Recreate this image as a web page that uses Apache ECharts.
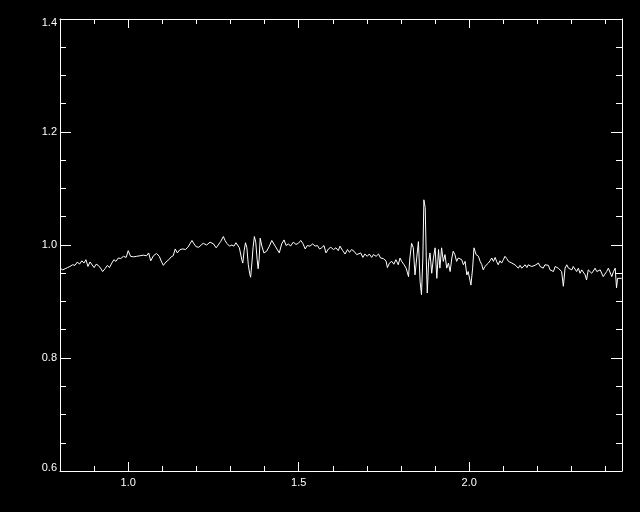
<!DOCTYPE html>
<html><head><meta charset="utf-8">
<script src="https://cdn.jsdelivr.net/npm/echarts@6/dist/echarts.min.js"></script>
<style>html,body{margin:0;padding:0;background:#000}#c{width:640px;height:512px}</style>
</head><body><div id="c"></div>
<script>
const wavelength = [
0.800,0.808,0.815,0.822,0.829,0.837,0.844,0.851,0.857,0.864,0.870,0.876,0.882,0.888,0.894,0.900,0.906,0.912,0.919,0.925,
0.932,0.939,0.945,0.952,0.958,0.964,0.971,0.978,0.986,0.994,1.000,1.007,1.015,1.025,1.035,1.044,1.054,1.060,1.066,1.074,
1.083,1.091,1.098,1.103,1.111,1.119,1.126,1.132,1.138,1.144,1.152,1.160,1.168,1.175,1.181,1.187,1.193,1.199,1.207,1.214,
1.220,1.230,1.240,1.250,1.258,1.264,
1.271,1.279,1.284,1.289,1.297,1.304,1.310,1.316,1.320,1.326,1.333,1.336,1.340,1.344,1.348,1.352,1.356,1.359,1.363,1.366,
1.370,1.374,1.378,1.381,1.384,1.387,1.392,1.398,1.406,1.414,1.421,1.426,1.431,1.435,1.443,1.450,1.457,1.463,1.470,1.476,
1.484,1.492,1.499,1.506,1.512,1.519,1.525,1.533,1.541,1.548,1.555,1.561,1.567,1.574,1.580,1.587,1.594,1.602,1.609,1.616,
1.621,1.629,1.636,1.643,1.649,1.655,1.662,1.670,1.675,1.682,1.688,1.694,1.701,1.707,1.714,1.719,1.727,1.734,1.740,1.748,
1.756,1.760,1.766,1.773,1.779,1.785,1.792,1.797,1.802,1.809,1.815,1.822,1.826,1.831,1.836,1.841,1.846,1.851,1.856,1.860,
1.864,1.867,1.871,1.874,1.877,1.881,1.885,1.890,1.895,1.900,1.905,1.910,1.914,1.919,1.924,1.929,1.934,1.939,1.944,1.949,
1.953,1.958,1.963,1.968,1.973,1.978,1.983,1.988,1.993,1.997,2.002,2.005,2.010,2.014,2.020,2.027,2.032,2.037,
2.041,2.046,2.051,2.056,2.061,2.066,2.071,2.076,2.081,2.085,2.090,2.095,2.100,2.105,2.110,2.115,2.120,2.125,2.129,2.134,
2.139,2.144,2.149,2.154,2.159,2.164,2.169,2.173,2.178,2.183,2.188,2.193,2.198,2.203,2.208,2.213,2.217,2.222,2.227,2.232,
2.237,2.242,2.247,2.252,2.257,2.261,2.266,2.271,2.276,2.281,2.286,2.291,2.296,2.301,2.305,2.310,2.315,2.320,2.325,2.330,
2.335,2.340,2.344,2.349,2.354,2.359,2.364,2.369,2.374,2.379,2.384,2.389,2.393,2.398,2.403,2.408,2.413,2.418,2.423,2.428,
2.432,2.435,2.440,2.447
];
const ratio = [
0.959,0.956,0.958,0.960,0.962,0.965,0.964,0.970,0.966,0.972,0.968,0.974,0.962,0.970,0.965,0.960,0.966,0.964,0.959,0.953,
0.958,0.964,0.960,0.968,0.974,0.971,0.977,0.976,0.980,0.978,0.990,0.980,0.979,0.980,0.981,0.982,0.981,0.986,0.972,0.981,
0.985,0.980,0.970,0.964,0.970,0.974,0.979,0.981,0.993,0.986,0.992,0.993,0.992,0.996,1.002,1.008,1.002,0.997,0.996,1.000,
1.003,1.000,1.005,1.002,0.995,1.000,
1.006,1.015,1.008,1.003,0.998,1.000,0.998,1.004,1.006,0.995,0.974,0.968,0.990,1.004,0.995,0.966,0.950,0.943,0.970,0.995,
1.015,1.005,0.975,0.958,0.975,1.012,0.998,0.986,0.989,0.998,1.008,1.005,0.998,1.001,0.986,1.002,1.009,0.999,1.002,0.998,
1.005,1.001,1.003,1.008,1.003,0.993,0.999,0.998,1.002,0.998,0.999,0.993,0.995,0.999,0.986,0.993,0.996,0.992,0.995,0.990,
0.998,0.990,0.984,0.992,0.987,0.992,0.989,0.983,0.980,0.986,0.978,0.984,0.980,0.984,0.978,0.983,0.980,0.984,0.977,0.976,
0.972,0.960,0.968,0.971,0.966,0.974,0.965,0.977,0.971,0.965,0.959,0.944,0.977,1.003,0.995,0.947,0.977,1.006,0.935,0.912,
0.977,1.080,1.066,0.977,0.915,0.971,0.986,0.950,0.977,0.995,0.941,0.992,0.959,0.995,0.971,0.983,0.959,0.968,0.953,0.977,
0.989,0.983,0.971,0.977,0.980,0.974,0.965,0.971,0.947,0.953,0.938,0.929,0.959,0.995,0.983,0.980,0.971,0.965,
0.956,0.962,0.959,0.968,0.972,0.977,0.971,0.978,0.970,0.965,0.972,0.968,0.974,0.980,0.976,0.971,0.974,0.968,0.970,0.965,
0.962,0.959,0.964,0.959,0.962,0.965,0.960,0.965,0.966,0.962,0.959,0.964,0.966,0.968,0.962,0.964,0.959,0.965,0.968,0.964,
0.956,0.959,0.953,0.962,0.965,0.959,0.962,0.953,0.927,0.959,0.965,0.959,0.962,0.956,0.962,0.959,0.953,0.959,0.950,0.956,
0.953,0.947,0.938,0.956,0.953,0.950,0.954,0.959,0.953,0.950,0.956,0.953,0.944,0.941,0.953,0.959,0.962,0.944,0.953,0.959,
0.924,0.941,0.944,0.941
];
const xMajorTicks = [1.0, 1.5, 2.0];
const xRange = [0.8, 2.448];
const yRange = [0.6, 1.4];

const white = {color: '#fff', width: 1};
const font = {color: '#fff', fontFamily: 'Liberation Sans', fontSize: 11};

function xMinor(pos) {
  return {
    type: 'value', position: pos, min: xRange[0], max: xRange[1], interval: 0.1,
    axisLine: {show: true, onZero: false, lineStyle: white},
    axisTick: {show: true, inside: true, length: 5, lineStyle: white},
    axisLabel: pos === 'bottom'
      ? Object.assign({show: true, customValues: xMajorTicks, margin: 6, formatter: v => v.toFixed(1)}, font)
      : {show: false},
    splitLine: {show: false}
  };
}
function xMajor(pos) {
  return {
    type: 'value', position: pos, min: xRange[0], max: xRange[1],
    axisLine: {show: false},
    axisTick: {show: true, inside: true, length: 9, customValues: xMajorTicks, lineStyle: white},
    axisLabel: {show: false},
    splitLine: {show: false}
  };
}
function yAx(pos) {
  return {
    type: 'value', position: pos, min: yRange[0], max: yRange[1], interval: 0.2,
    axisLine: {show: true, onZero: false, lineStyle: white},
    axisTick: {show: true, inside: true, length: 11, lineStyle: white},
    minorTick: {show: true, splitNumber: 4, length: 6, lineStyle: white},
    axisLabel: pos === 'left'
      ? Object.assign({
          show: true, margin: 3,
          formatter: v => {
            const s = v.toFixed(1);
            if (Math.abs(v - yRange[1]) < 1e-6) return '{hi|' + s + '}';
            if (Math.abs(v - yRange[0]) < 1e-6) return '{lo|' + s + '}';
            return s;
          },
          rich: {
            hi: Object.assign({padding: [8, 0, 0, 0]}, font),
            lo: Object.assign({padding: [0, 0, 6, 0]}, font)
          }
        }, font)
      : {show: false},
    splitLine: {show: false}, minorSplitLine: {show: false}
  };
}

const chart = echarts.init(document.getElementById('c'), null, {renderer: 'canvas'});
chart.setOption({
  backgroundColor: '#000',
  animation: false,
  grid: {left: 60, top: 19, width: 562, height: 452},
  xAxis: [xMinor('bottom'), xMajor('bottom'), xMinor('top'), xMajor('top')],
  yAxis: [yAx('left'), yAx('right')],
  series: [{
    type: 'line', xAxisIndex: 0, yAxisIndex: 0,
    data: wavelength.map((w, i) => [w, ratio[i]]),
    showSymbol: false, symbol: 'none',
    lineStyle: {color: '#fff', width: 1},
    clip: true
  }]
});
</script>
</body></html>
